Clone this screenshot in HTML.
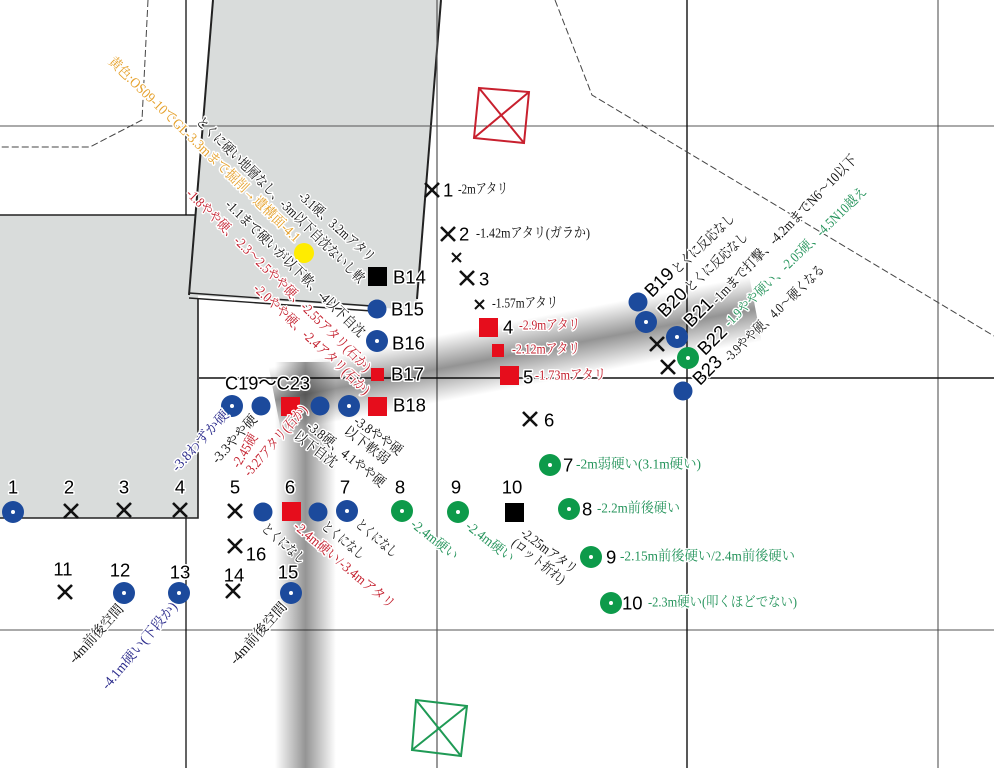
<!DOCTYPE html>
<html><head><meta charset="utf-8"><style>
html,body{margin:0;padding:0;background:#fff;width:994px;height:768px;overflow:hidden}
svg{display:block}
.s{font-family:"Liberation Serif","Noto Serif CJK SC",serif;font-size:14px;dominant-baseline:central;paint-order:stroke;stroke:#fff;stroke-width:3px;stroke-linejoin:round;fill:#111}
.r{fill:#c4202e}.g{fill:#23935a}.n{fill:#2b2b8c}.y{fill:#e5a02a}
.l{font-family:"Liberation Sans","Noto Sans CJK JP",sans-serif;font-size:18.5px;dominant-baseline:central;paint-order:stroke;stroke:#fff;stroke-width:3px;stroke-linejoin:round;fill:#000}
.c{text-anchor:middle}
.x{stroke:#111;stroke-width:2.6;fill:none}
.b{fill:#1c4a9c}.gc{fill:#0d9a4a}.d{fill:#fff}.rs{fill:#e60d1c}
</style></head><body>
<svg width="994" height="768" viewBox="0 0 994 768" xmlns="http://www.w3.org/2000/svg">
<defs>
<linearGradient id="v" x1="0" x2="1" y1="0" y2="0"><stop offset="0" stop-color="#000" stop-opacity="0"/><stop offset=".5" stop-color="#000" stop-opacity=".42"/><stop offset="1" stop-color="#000" stop-opacity="0"/></linearGradient>
<linearGradient id="h" x1="0" x2="0" y1="0" y2="1"><stop offset="0" stop-color="#000" stop-opacity="0"/><stop offset=".5" stop-color="#000" stop-opacity=".42"/><stop offset="1" stop-color="#000" stop-opacity="0"/></linearGradient>
</defs>
<rect width="994" height="768" fill="#fff"/>
<!-- gray areas -->
<polygon points="0,215 198,215 198,518 0,518" fill="#d9dcdb"/>
<polygon points="213,0 441,0 417,300 415,310 189,295" fill="#d9dcdb"/>
<g fill="none" stroke="#222">
<path d="M0,215H196" stroke-width="1.6"/>
<path d="M198,298V518H0" stroke-width="1.6"/>
<path d="M213,0L189,295" stroke-width="2"/>
<path d="M441,0L417,299" stroke-width="2"/>
<path d="M189,293L372,306M189,298L372,311" stroke-width="1.4"/>
</g>
<!-- grid -->
<g fill="none">
<path d="M0,126H994M0,630H994" stroke="#555" stroke-width="1"/>
<path d="M437,0V768" stroke="#555" stroke-width="1.2"/>
<path d="M938,0V768" stroke="#444" stroke-width="1"/>
<path d="M186,0V215M186,518V768" stroke="#111" stroke-width="1.3"/>
<path d="M687,0V768" stroke="#111" stroke-width="1.4"/>
<path d="M199,378H994" stroke="#111" stroke-width="1.6"/>
<path d="M148,0L142,120L90,147H0" stroke="#444" stroke-width="1" stroke-dasharray="7 3"/>
<path d="M555,0L592,95L994,336" stroke="#444" stroke-width="1" stroke-dasharray="7 3"/>
</g>
<!-- bands -->
<rect x="275" y="362" width="61" height="406" fill="url(#v)"/>
<g transform="translate(275,400) rotate(-10.75)"><rect x="0" y="-33" width="489" height="66" fill="url(#h)"/></g>
<!-- markers boxes -->
<g fill="none" stroke="#c8202e" stroke-width="2"><path d="M479,88L529,92L524,143L474,138ZM479,88L524,143M529,92L474,138"/></g>
<g fill="none" stroke="#1f9a55" stroke-width="2"><path d="M416,700L467,706L461,756L412,750ZM416,700L461,756M467,706L412,750"/></g>
<!-- squares and circles -->
<rect x="368" y="267" width="19" height="19" fill="#000"/>
<circle cx="304" cy="253" r="10" fill="#ffec00"/>
<circle cx="377" cy="309" r="9.5" class="b"/>
<circle cx="377" cy="341" r="11" class="b"/><circle cx="377" cy="341" r="2" class="d"/>
<rect x="371" y="368" width="13" height="13" class="rs"/>
<rect x="368" y="397" width="19" height="19" class="rs"/>
<circle cx="232" cy="406" r="11" class="b"/><circle cx="232" cy="406" r="2" class="d"/>
<circle cx="261" cy="406" r="9.5" class="b"/>
<rect x="281" y="397" width="19" height="19" class="rs"/>
<circle cx="320" cy="406" r="9.5" class="b"/>
<circle cx="349" cy="406" r="11" class="b"/><circle cx="349" cy="406" r="2" class="d"/>
<circle cx="13" cy="512" r="11" class="b"/><circle cx="13" cy="512" r="2" class="d"/>
<circle cx="263" cy="512" r="9.5" class="b"/>
<rect x="282" y="502" width="19" height="19" class="rs"/>
<circle cx="318" cy="512" r="9.5" class="b"/>
<circle cx="347" cy="511" r="11" class="b"/><circle cx="347" cy="511" r="2" class="d"/>
<circle cx="402" cy="511" r="11" class="gc"/><circle cx="402" cy="511" r="2" class="d"/>
<circle cx="458" cy="512" r="11" class="gc"/><circle cx="458" cy="512" r="2" class="d"/>
<rect x="505" y="503" width="19" height="19" fill="#000"/>
<circle cx="124" cy="593" r="11" class="b"/><circle cx="124" cy="593" r="2" class="d"/>
<circle cx="179" cy="593" r="11" class="b"/><circle cx="179" cy="593" r="2" class="d"/>
<circle cx="291" cy="593" r="11" class="b"/><circle cx="291" cy="593" r="2" class="d"/>
<circle cx="550" cy="465" r="11" class="gc"/><circle cx="550" cy="465" r="2" class="d"/>
<circle cx="569" cy="509" r="11" class="gc"/><circle cx="569" cy="509" r="2" class="d"/>
<circle cx="591" cy="557" r="11" class="gc"/><circle cx="591" cy="557" r="2" class="d"/>
<circle cx="611" cy="603" r="11" class="gc"/><circle cx="611" cy="603" r="2" class="d"/>
<circle cx="638" cy="302" r="9.5" class="b"/>
<circle cx="646" cy="322" r="11" class="b"/><circle cx="646" cy="322" r="2" class="d"/>
<circle cx="677" cy="337" r="11" class="b"/><circle cx="677" cy="337" r="2" class="d"/>
<circle cx="688" cy="358" r="11" class="gc"/><circle cx="688" cy="358" r="2" class="d"/>
<circle cx="683" cy="391" r="9.5" class="b"/>
<rect x="479" y="318" width="19" height="19" class="rs"/>
<rect x="492" y="344" width="12" height="13" class="rs"/>
<rect x="500" y="366" width="19" height="19" class="rs"/>
<!-- crosses -->
<path class="x" d="M425,183l14,14m0,-14l-14,14M441,227l14,14m0,-14l-14,14M460,271l14,14m0,-14l-14,14M523,412l14,14m0,-14l-14,14M650,337l14,14m0,-14l-14,14M661,360l14,14m0,-14l-14,14M64,504l14,14m0,-14l-14,14M117,503l14,14m0,-14l-14,14M173,503l14,14m0,-14l-14,14M228,504l14,14m0,-14l-14,14M228,539l14,14m0,-14l-14,14M226,584l14,14m0,-14l-14,14M58,585l14,14m0,-14l-14,14"/>
<path class="x" style="stroke-width:2" d="M452,253l9,9m0,-9l-9,9M475,300l9,9m0,-9l-9,9"/>
<!-- sans labels -->
<text class="l" x="393" y="277">B14</text>
<text class="l" x="391" y="309">B15</text>
<text class="l" x="392" y="343">B16</text>
<text class="l" x="391" y="374">B17</text>
<text class="l" x="393" y="405">B18</text>
<text class="l" x="225" y="383" textLength="85" lengthAdjust="spacingAndGlyphs">C19〜C23</text>
<g class="c">
<text class="l c" x="13" y="487">1</text><text class="l c" x="69" y="487">2</text><text class="l c" x="124" y="487">3</text><text class="l c" x="180" y="487">4</text><text class="l c" x="235" y="487">5</text><text class="l c" x="290" y="487">6</text><text class="l c" x="345" y="487">7</text><text class="l c" x="400" y="487">8</text><text class="l c" x="456" y="487">9</text><text class="l c" x="512" y="487">10</text>
<text class="l c" x="63" y="569">11</text><text class="l c" x="120" y="570">12</text><text class="l c" x="180" y="572">13</text><text class="l c" x="234" y="575">14</text><text class="l c" x="288" y="572">15</text><text class="l c" x="256" y="554">16</text>
</g>
<text class="l" x="443" y="190">1</text><text class="l" x="459" y="234">2</text><text class="l" x="479" y="279">3</text>
<text class="l" x="503" y="327">4</text><text class="l" x="523" y="377">5</text><text class="l" x="544" y="420">6</text>
<text class="l" x="563" y="465">7</text><text class="l" x="582" y="509">8</text><text class="l" x="606" y="557">9</text><text class="l" x="622" y="603">10</text>
<!-- rotated B labels -->
<text class="l c" transform="translate(659,282) rotate(-45)">B19</text>
<text class="l c" transform="translate(672,302) rotate(-45)">B20</text>
<text class="l c" transform="translate(698,312) rotate(-45)">B21</text>
<text class="l c" transform="translate(712,340) rotate(-45)">B22</text>
<text class="l c" transform="translate(707,370) rotate(-45)">B23</text>
<!-- horizontal notes -->
<text class="s" x="458" y="190" textLength="50" lengthAdjust="spacingAndGlyphs">-2mアタリ</text>
<text class="s" x="476" y="234" textLength="114" lengthAdjust="spacingAndGlyphs">-1.42mアタリ(ガラか)</text>
<text class="s" x="492" y="304" textLength="66" lengthAdjust="spacingAndGlyphs">-1.57mアタリ</text>
<text class="s r" x="519" y="326" textLength="61" lengthAdjust="spacingAndGlyphs">-2.9mアタリ</text>
<text class="s r" x="512" y="350" textLength="68" lengthAdjust="spacingAndGlyphs">-2.12mアタリ</text>
<text class="s r" x="535" y="376" textLength="71" lengthAdjust="spacingAndGlyphs">-1.73mアタリ</text>
<text class="s g" x="576" y="465" textLength="125" lengthAdjust="spacingAndGlyphs">-2m弱硬い(3.1m硬い)</text>
<text class="s g" x="597" y="509" textLength="83" lengthAdjust="spacingAndGlyphs">-2.2m前後硬い</text>
<text class="s g" x="620" y="557" textLength="175" lengthAdjust="spacingAndGlyphs">-2.15m前後硬い/2.4m前後硬い</text>
<text class="s g" x="648" y="603" textLength="149" lengthAdjust="spacingAndGlyphs">-2.3m硬い(叩くほどでない)</text>
<!-- diagonal notes -->
<text class="s y" transform="translate(110,60) rotate(43.9)" textLength="260" lengthAdjust="spacingAndGlyphs">黄色:OS09-10でGL-3.3mまで掘削→遺構面-4.1</text>
<text class="s" transform="translate(198,120) rotate(44.6)" textLength="230" lengthAdjust="spacingAndGlyphs">とくに硬い地層なし、-3m以下自沈ないし軟</text>
<text class="s" transform="translate(300,195) rotate(42)" textLength="97" lengthAdjust="spacingAndGlyphs">-3.1硬、3.2mアタリ</text>
<text class="s" transform="translate(227,203) rotate(44.4)" textLength="189" lengthAdjust="spacingAndGlyphs">-1.1まで硬いが以下軟、-4以下自沈</text>
<text class="s r" transform="translate(188,192) rotate(44.7)" textLength="253" lengthAdjust="spacingAndGlyphs">-1.8やや硬、-2.3〜2.5やや硬、-2.55アタリ(石か)</text>
<text class="s r" transform="translate(255,287) rotate(43.4)" textLength="154" lengthAdjust="spacingAndGlyphs">-2.0やや硬、-2.4アタリ(石か)</text>
<text class="s" transform="translate(675,272) rotate(-43.5)" textLength="80" lengthAdjust="spacingAndGlyphs">とくに反応なし</text>
<text class="s" transform="translate(688,290) rotate(-43)" textLength="80" lengthAdjust="spacingAndGlyphs">とくに反応なし</text>
<text class="s" transform="translate(715,302) rotate(-45.8)" textLength="201" lengthAdjust="spacingAndGlyphs">-1mまで打撃、-4.2mまでN6〜10以下</text>
<text class="s g" transform="translate(727,325) rotate(-44.4)" textLength="193" lengthAdjust="spacingAndGlyphs">-1.9やや硬い、-2.05硬、-4.5N10越え</text>
<text class="s" transform="translate(727,360) rotate(-43.8)" textLength="133" lengthAdjust="spacingAndGlyphs">-3.9やや硬、4.0〜硬くなる</text>
<text class="s n" transform="translate(175,470) rotate(-47.6)" textLength="77" lengthAdjust="spacingAndGlyphs">-3.8わずか硬</text>
<text class="s" transform="translate(215,462) rotate(-47.7)" textLength="60" lengthAdjust="spacingAndGlyphs">-3.3やや硬</text>
<text class="s r" transform="translate(236,467) rotate(-59)" textLength="37" lengthAdjust="spacingAndGlyphs">-2.45硬</text>
<text class="s r" transform="translate(247,475) rotate(-49)" textLength="89" lengthAdjust="spacingAndGlyphs">-3.27アタリ(石か)</text>
<text class="s" transform="translate(308,425) rotate(38.7)" textLength="96" lengthAdjust="spacingAndGlyphs">-3.8硬、4.1やや硬</text>
<text class="s" transform="translate(295,435) rotate(37)" textLength="50" lengthAdjust="spacingAndGlyphs">以下自沈</text>
<text class="s" transform="translate(355,420) rotate(36)" textLength="56" lengthAdjust="spacingAndGlyphs">-3.8やや硬</text>
<text class="s" transform="translate(345,430) rotate(37)" textLength="53" lengthAdjust="spacingAndGlyphs">以下軟弱</text>
<text class="s" transform="translate(263,527) rotate(41)" textLength="53" lengthAdjust="spacingAndGlyphs">とくになし</text>
<text class="s" transform="translate(323,525) rotate(39)" textLength="51" lengthAdjust="spacingAndGlyphs">とくになし</text>
<text class="s" transform="translate(357,523) rotate(40)" textLength="50" lengthAdjust="spacingAndGlyphs">とくになし</text>
<text class="s r" transform="translate(295,525) rotate(40)" textLength="127" lengthAdjust="spacingAndGlyphs">-2.4m硬い/-3.4mアタリ</text>
<text class="s g" transform="translate(412,523) rotate(38.5)" textLength="56" lengthAdjust="spacingAndGlyphs">-2.4m硬い</text>
<text class="s g" transform="translate(467,525) rotate(38)" textLength="57" lengthAdjust="spacingAndGlyphs">-2.4m硬い</text>
<text class="s" transform="translate(522,532) rotate(37)" textLength="66" lengthAdjust="spacingAndGlyphs">-2.25mアタリ</text>
<text class="s" transform="translate(513,542) rotate(38.7)" textLength="64" lengthAdjust="spacingAndGlyphs">(ロット折れ)</text>
<text class="s" transform="translate(72,662) rotate(-47.8)" textLength="74" lengthAdjust="spacingAndGlyphs">-4m前後空間</text>
<text class="s n" transform="translate(105,688) rotate(-49.9)" textLength="109" lengthAdjust="spacingAndGlyphs">-4.1m硬い(下段か)</text>
<text class="s" transform="translate(233,663) rotate(-48.1)" textLength="78" lengthAdjust="spacingAndGlyphs">-4m前後空間</text>
</svg>
</body></html>
